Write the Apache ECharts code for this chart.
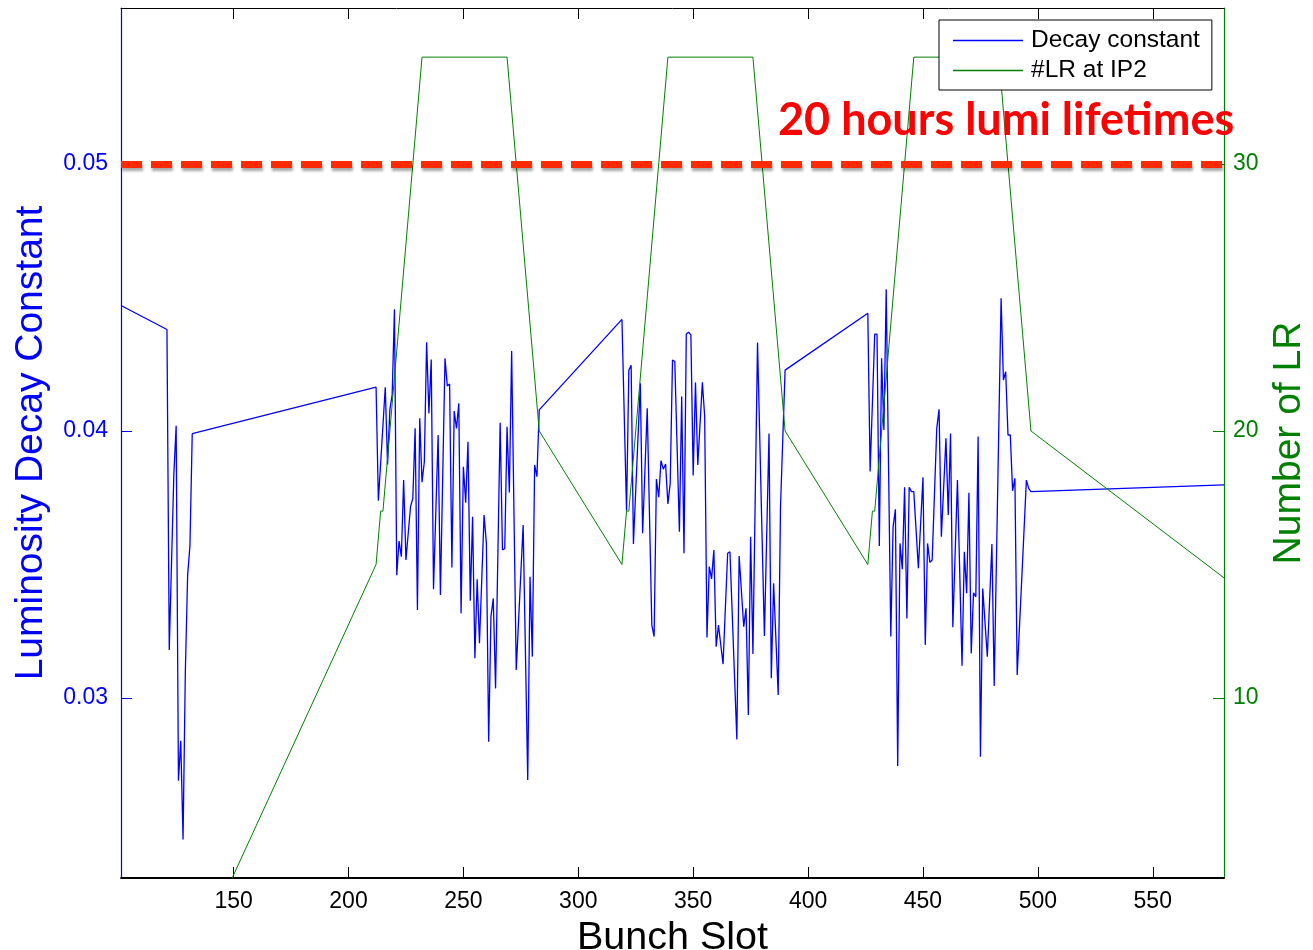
<!DOCTYPE html>
<html><head><meta charset="utf-8">
<script src="https://cdn.jsdelivr.net/npm/echarts@6/dist/echarts.min.js"></script>
<style>html,body{margin:0;padding:0;background:#fff;overflow:hidden}#c{width:1313px;height:950px}</style>
</head><body><div id="c"></div>
<script>
// ---- data ----
const decaySlots = [
  101,121,122,124,125,126,127,128,129,130,131,132,
  212,213,216,217,218,219,220,221,222,223,224,225,227,228,229,230,231,232,233,234,235,236,237,239,240,242,243,244,245,246,247,248,249,250,251,252,253,254,255,256,257,259,260,261,262,263,264,266,267,268,269,270,271,273,276,278,279,280,281,282,283,
  319,321,322,323,324,327,328,330,332,333,334,335,336,337,338,339,340,341,342,344,345,346,347,348,349,350,351,352,354,355,356,357,358,359,360,361,363,365,366,369,370,372,373,374,375,376,378,381,383,384,385,387,388,390,
  426,427,429,430,431,432,433,434,436,437,438,439,440,441,442,443,444,445,446,448,450,451,452,453,454,456,457,458,460,461,462,463,465,467,468,469,470,471,472,473,474,475,476,478,480,481,484,485,486,487,488,489,490,491,493,495,496,497,
  581
];
const decayValues = [
  0.0447,0.0438,0.0318,0.0384,0.0402,0.0269,0.0284,0.0247,0.0310,0.0346,0.0357,0.0399,
  0.04164,0.03739,0.04164,0.03875,0.04079,0.04135,0.04456,0.03460,0.03588,0.03529,0.03816,0.03517,0.03717,0.03748,0.04010,0.03330,0.04048,0.03808,0.03885,0.04332,0.04066,0.04268,0.03407,0.03985,0.03386,0.04272,0.04169,0.04176,0.03489,0.04075,0.04010,0.04104,0.03317,0.03866,0.03731,0.03960,0.03364,0.03679,0.03149,0.03445,0.03205,0.03685,0.03579,0.02836,0.03305,0.03373,0.03036,0.04031,0.03554,0.03560,0.04016,0.03770,0.04300,0.03105,0.03648,0.02693,0.03454,0.03155,0.03873,0.03829,0.04079,
  0.04418,0.03701,0.04228,0.04246,0.03577,0.04179,0.03617,0.04085,0.03273,0.03230,0.03820,0.03752,0.03889,0.03857,0.03876,0.03727,0.03804,0.04266,0.04260,0.03623,0.04129,0.03542,0.04363,0.04370,0.04360,0.03833,0.04182,0.03873,0.04182,0.04054,0.03227,0.03492,0.03446,0.03554,0.03192,0.03273,0.03127,0.03542,0.03548,0.02845,0.03532,0.03267,0.03336,0.02936,0.03604,0.03165,0.04331,0.03232,0.03991,0.03074,0.03430,0.03011,0.03716,0.04228,
  0.04441,0.03848,0.04363,0.04363,0.03569,0.04272,0.04004,0.04531,0.03230,0.03642,0.03707,0.02745,0.03579,0.03482,0.03789,0.03298,0.03789,0.03773,0.03773,0.03486,0.03827,0.03199,0.03579,0.03508,0.03517,0.04010,0.04081,0.03604,0.03973,0.03685,0.03991,0.03265,0.03816,0.03121,0.03548,0.03392,0.03769,0.03167,0.03394,0.03379,0.03979,0.02780,0.03410,0.03155,0.03577,0.03045,0.04497,0.04191,0.04222,0.03985,0.03985,0.03776,0.03823,0.03086,0.03448,0.03816,0.03785,0.03773,
  0.03798
];
const lrSlots  = [101,121,132,212,214,215,232,269,283,319,321,322,339,376,390,426,428,429,446,483,497,581];
const lrValues = [0,0,0,15,17,17,34,34,20,15,17,17,34,34,20,15,17,17,34,34,20,14.5];

const xTicks = [150,200,250,300,350,400,450,500,550];
const leftTicks = [0.03,0.04,0.05];
const rightTicks = [10,20,30];
const xRange = [101,581];
const leftRange = [0.023258,0.055843];
const rightRange = [3.26,35.84];
const lifetimeLevel = 0.05;
const lifetimeLabel = '20 hours lumi lifetimes';
const seriesNames = ['Decay constant','#LR at IP2'];

// ---- chart ----
const FONT = 'Liberation Sans, Arial, Helvetica, sans-serif';
const BLUE = '#0000ff', GREEN = '#008000';
const zip = (a,b) => a.map((v,i)=>[v,b[i]]);

const chart = echarts.init(document.getElementById('c'), null, {renderer:'canvas'});
chart.setOption({
  animation:false,
  backgroundColor:'#ffffff',
  grid:{left:121, right:89, top:8, bottom:72, containLabel:false, outerBoundsMode:'none'},
  legend:{
    data:seriesNames, orient:'vertical', left:939, top:20,
    backgroundColor:'#ffffff', borderColor:'#000', borderWidth:1,
    padding:[8,12,7,14], itemWidth:70, itemHeight:1.5, itemGap:5, icon:'rect',
    textStyle:{fontFamily:FONT, fontSize:24.5, color:'#000', lineHeight:24, padding:[0,0,0,3]}
  },
  xAxis:[{
    type:'value', min:xRange[0], max:xRange[1], position:'bottom',
    axisLine:{lineStyle:{color:'#000', width:1.8}},
    axisTick:{inside:true, length:11, customValues:xTicks, lineStyle:{color:'#000'}},
    axisLabel:{customValues:xTicks, fontFamily:FONT, fontSize:23, color:'#000', margin:12},
    splitLine:{show:false},
    name:'Bunch Slot', nameLocation:'middle', nameGap:35,
    nameTextStyle:{fontFamily:FONT, fontSize:39.5, color:'#000'}
  },{
    type:'value', min:xRange[0], max:xRange[1], position:'top',
    axisLine:{lineStyle:{color:'#000', width:1}},
    axisTick:{inside:true, length:11, customValues:xTicks, lineStyle:{color:'#000'}},
    axisLabel:{show:false}, splitLine:{show:false}
  }],
  yAxis:[{
    type:'value', min:leftRange[0], max:leftRange[1], position:'left',
    axisLine:{show:true, lineStyle:{color:BLUE, width:1.2}},
    axisTick:{show:true, inside:true, length:11, customValues:leftTicks, lineStyle:{color:BLUE}},
    axisLabel:{customValues:leftTicks, fontFamily:FONT, fontSize:23, color:BLUE, margin:13},
    splitLine:{show:false},
    name:'Luminosity Decay Constant', nameLocation:'middle', nameGap:70,
    nameTextStyle:{fontFamily:FONT, fontSize:39, color:BLUE}
  },{
    type:'value', min:rightRange[0], max:rightRange[1], position:'right',
    axisLine:{show:true, lineStyle:{color:GREEN, width:1.2}},
    axisTick:{show:true, inside:true, length:11, customValues:rightTicks, lineStyle:{color:GREEN}},
    axisLabel:{customValues:rightTicks, fontFamily:FONT, fontSize:23, color:GREEN, margin:9},
    splitLine:{show:false},
    name:'Number of LR', nameLocation:'middle', nameGap:44,
    nameTextStyle:{fontFamily:FONT, fontSize:39, color:GREEN}
  }],
  series:[{
    name:seriesNames[0], type:'line', xAxisIndex:0, yAxisIndex:0,
    data:zip(decaySlots, decayValues), symbol:'none', showSymbol:false, clip:true,
    lineStyle:{color:BLUE, width:1.3}, itemStyle:{color:BLUE}, z:2
  },{
    name:seriesNames[1], type:'line', xAxisIndex:0, yAxisIndex:1,
    data:zip(lrSlots, lrValues), symbol:'none', showSymbol:false, clip:true,
    lineStyle:{color:GREEN, width:1}, itemStyle:{color:GREEN}, z:3
  },{
    name:'lifetime', type:'line', xAxisIndex:0, yAxisIndex:0, data:[], z:5,
    markLine:{
      silent:true, symbol:'none', label:{show:false},
      lineStyle:{color:'#ff2a00', width:7, type:[21,9],
        shadowColor:'rgba(0,0,0,0.35)', shadowBlur:3, shadowOffsetX:1, shadowOffsetY:3},
      data:[{yAxis:lifetimeLevel}]
    }
  }],
  graphic:[{
    type:'text', left:778, top:98, z:100,
    style:{text:lifetimeLabel, fill:'#ff0000', font:'bold 45px Lato, "Open Sans", sans-serif'}
  }]
});
</script>
</body></html>
